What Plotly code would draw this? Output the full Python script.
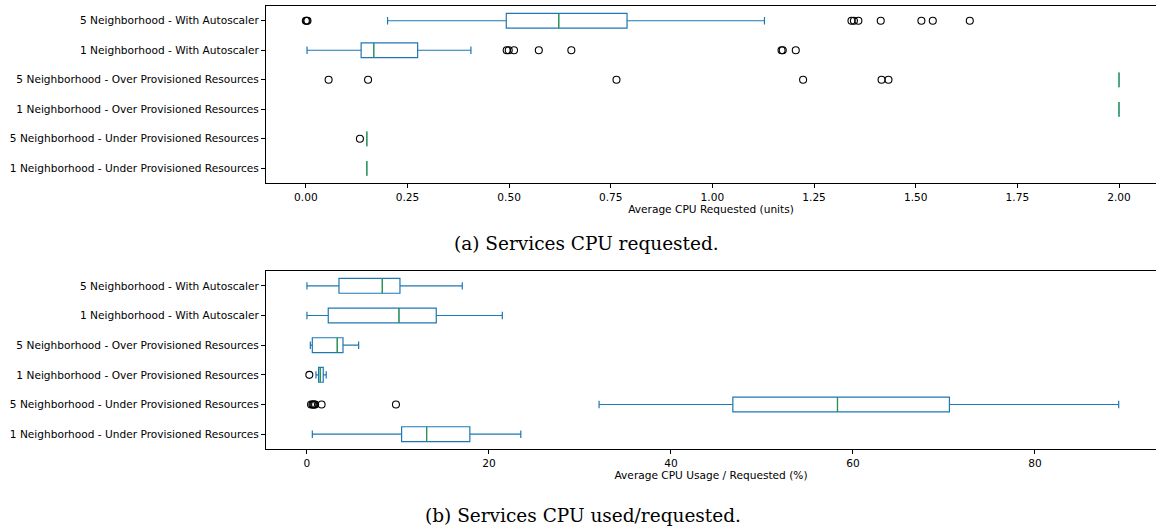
import plotly.graph_objects as go

# ---------------- data ----------------
categories = [
    "1 Neighborhood - Under Provisioned Resources",
    "5 Neighborhood - Under Provisioned Resources",
    "1 Neighborhood - Over Provisioned Resources",
    "5 Neighborhood - Over Provisioned Resources",
    "1 Neighborhood - With Autoscaler",
    "5 Neighborhood - With Autoscaler",
]

# (a) Average CPU requested (units)
req_low = [0.15, 0.15, 2.0, 2.0, 0.003, 0.201]
req_q1 = [0.15, 0.15, 2.0, 2.0, 0.136, 0.493]
req_med = [0.15, 0.15, 2.0, 2.0, 0.167, 0.622]
req_q3 = [0.15, 0.15, 2.0, 2.0, 0.275, 0.790]
req_high = [0.15, 0.15, 2.0, 2.0, 0.406, 1.128]
req_out = [
    [],
    [0.133],
    [],
    [0.056, 0.153, 0.764, 1.223, 1.416, 1.433],
    [0.494, 0.499, 0.512, 0.573, 0.653, 1.170, 1.173, 1.205],
    [0.0, 0.002, 0.004, 1.342, 1.348, 1.359, 1.414, 1.514, 1.542, 1.633],
]

# (b) Average CPU usage / requested (%)
use_low = [0.59, 32.1, 0.99, 0.37, 0.0, 0.0]
use_q1 = [10.4, 46.8, 1.28, 0.59, 2.34, 3.52]
use_med = [13.15, 58.3, 1.47, 3.33, 10.11, 8.28]
use_q3 = [17.9, 70.6, 1.79, 3.96, 14.21, 10.22]
use_high = [23.5, 89.2, 2.12, 5.68, 21.47, 17.07]
use_out = [
    [],
    [0.45, 0.6, 0.7, 0.8, 0.9, 1.61, 9.78],
    [0.26],
    [],
    [],
    [],
]

captions = ["(a) Services CPU requested.", "(b) Services CPU used/requested."]
xtitles = ["Average CPU Requested (units)", "Average CPU Usage / Requested (%)"]

# ---------------- figure ----------------
BLUE = "#1f77b4"
GREEN = "#2ca02c"
positions = list(range(1, len(categories) + 1))
BW = 0.5

fig = go.Figure()

def add_panel(low, q1, med, q3, high, outs, xa, ya):
    for i, p in enumerate(positions):
        fig.add_trace(go.Box(
            y=[p], q1=[q1[i]], median=[med[i]], q3=[q3[i]],
            lowerfence=[low[i]], upperfence=[high[i]],
            orientation="h", width=BW, whiskerwidth=0.5,
            line=dict(color=BLUE, width=1.2), fillcolor="rgba(0,0,0,0)",
            boxpoints=False, xaxis=xa, yaxis=ya, showlegend=False,
        ))
        fig.add_trace(go.Scatter(
            x=[med[i], med[i]], y=[p - BW / 2, p + BW / 2], mode="lines",
            line=dict(color=GREEN, width=1.2), opacity=0.85, xaxis=xa, yaxis=ya,
            showlegend=False, hoverinfo="skip",
        ))
        if outs[i]:
            fig.add_trace(go.Scatter(
                x=outs[i], y=[p] * len(outs[i]), mode="markers",
                marker=dict(symbol="circle-open", size=7, color="black",
                            line=dict(width=1.1, color="black")),
                xaxis=xa, yaxis=ya, showlegend=False,
            ))

add_panel(req_low, req_q1, req_med, req_q3, req_high, req_out, "x", "y")
add_panel(use_low, use_q1, use_med, use_q3, use_high, use_out, "x2", "y2")

W, H = 1156, 526
x0 = 266 / W
FS = 10.6
tickfont = dict(family="DejaVu Sans", size=FS, color="black")
common_x = dict(showline=True, linecolor="black", linewidth=1, mirror=True,
                ticks="outside", ticklen=4, tickcolor="black", tickwidth=1,
                showgrid=False, zeroline=False, tickfont=tickfont,
                automargin=False)
common_y = dict(showline=True, linecolor="black", linewidth=1, mirror=False,
                ticks="outside", ticklen=4, tickcolor="black", tickwidth=1,
                showgrid=False, zeroline=False, tickfont=tickfont,
                tickvals=positions, ticktext=categories, range=[0.5, 6.5],
                automargin=False)

fig.update_layout(
    width=W, height=H, margin=dict(l=0, r=0, t=0, b=0),
    paper_bgcolor="white", plot_bgcolor="white",
    xaxis=dict(common_x, domain=[x0, 1], anchor="y",
               range=[-0.098, 2.091],
               tickvals=[0, 0.25, 0.5, 0.75, 1.0, 1.25, 1.5, 1.75, 2.0],
               ticktext=["0.00", "0.25", "0.50", "0.75", "1.00", "1.25", "1.50", "1.75", "2.00"],
               title=dict(text=xtitles[0], font=dict(family="DejaVu Sans", size=FS, color="black"), standoff=3)),
    yaxis=dict(common_y, domain=[1 - 183 / H, 1 - 6 / H], anchor="x"),
    xaxis2=dict(common_x, domain=[x0, 1], anchor="y2",
                range=[-4.5, 93.3], tickvals=[0, 20, 40, 60, 80],
                title=dict(text=xtitles[1], font=dict(family="DejaVu Sans", size=FS, color="black"), standoff=2)),
    yaxis2=dict(common_y, domain=[1 - 449 / H, 1 - 271 / H], anchor="x2"),
    annotations=[
        dict(text=captions[0], x=586 / W, y=1 - 243 / H, xref="paper", yref="paper",
             showarrow=False, font=dict(family="DejaVu Serif", size=18.5, color="black"),
             xanchor="center", yanchor="middle"),
        dict(text=captions[1], x=583 / W, y=1 - 515 / H, xref="paper", yref="paper",
             showarrow=False, font=dict(family="DejaVu Serif", size=18.5, color="black"),
             xanchor="center", yanchor="middle"),
    ],
)

fig.write_html("out.html", config={"displayModeBar": False},
               post_script="document.body.style.margin='0px';")
